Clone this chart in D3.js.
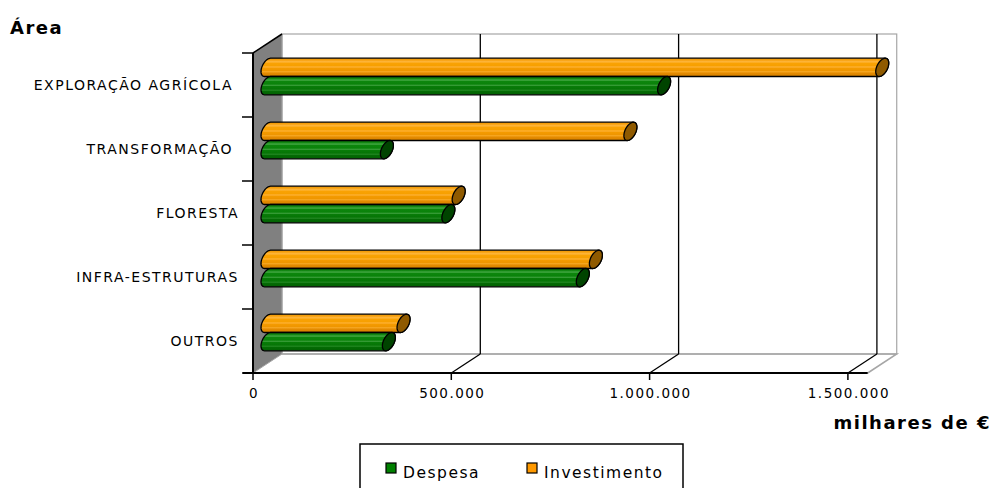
<!DOCTYPE html>
<html>
<head>
<meta charset="utf-8">
<script src="https://cdn.jsdelivr.net/npm/d3@7"></script>
<style>
  html, body { margin: 0; padding: 0; background: #fff; }
  svg { display: block; }
  text { font-family: "DejaVu Sans", Verdana, sans-serif; fill: #000; white-space: pre; }
</style>
</head>
<body>
<svg id="chart" width="992" height="488"></svg>
<script>
// Categories (top to bottom) and the two series, in thousands of euros
const categories = ["EXPLORAÇÃO AGRÍCOLA ", "TRANSFORMAÇÃO ", "FLORESTA", "INFRA-ESTRUTURAS", "OUTROS"];
const seriesNames = ["Investimento", "Despesa"];
const despesa = [1000000, 301000, 456000, 795000, 306000];
const investimento = [1550000, 915000, 482000, 828000, 343000];
const xTickValues = [0, 500000, 1000000, 1500000];
const xMax = 1550000;
const titleY = "Área";
const titleX = "milhares de €";

const svg = d3.select("#chart");
const locale = d3.formatLocale({ decimal: ",", thousands: ".", grouping: [3], currency: ["", " €"] });
const fmt = locale.format(",d");

// Plot geometry: front plane and oblique depth offset
const front = { left: 253, top: 53, bottom: 373 };
const depth = { dx: 29, dy: -19 };

const x = d3.scaleLinear().domain([0, xMax]).range([front.left, front.left + xMax * 198.3 / 500000]);
const y0 = d3.scaleBand().domain(categories).range([front.top, front.bottom]).paddingInner(0).paddingOuter(0);
const y1 = d3.scaleBand().domain(seriesNames).range([0, y0.bandwidth()]).paddingInner(0).paddingOuter(0.75);

const xEnd = x(xMax);
const backTop = front.top + depth.dy;
const backBottom = front.bottom + depth.dy;

// Walls
const walls = svg.append("g");
// back wall
walls.append("rect")
  .attr("x", front.left + depth.dx).attr("y", backTop)
  .attr("width", xEnd - front.left).attr("height", backBottom - backTop)
  .attr("fill", "#fff").attr("stroke", "#a6a6a6").attr("stroke-width", 1.2);
// left side wall
walls.append("path")
  .attr("d", `M${front.left},${front.top} L${front.left + depth.dx},${backTop} L${front.left + depth.dx},${backBottom} L${front.left},${front.bottom} Z`)
  .attr("fill", "#808080").attr("stroke", "#a6a6a6").attr("stroke-width", 1);
// floor outline
walls.append("path")
  .attr("d", `M${front.left + depth.dx},${backBottom} L${xEnd + depth.dx},${backBottom} L${xEnd},${front.bottom}`)
  .attr("fill", "none").attr("stroke", "#a6a6a6").attr("stroke-width", 1.5);

// Gridlines on back wall and floor
const grid = svg.append("g");
xTickValues.filter(v => v > 0).forEach(v => {
  const gx = x(v);
  grid.append("line")
    .attr("x1", gx + depth.dx).attr("x2", gx + depth.dx)
    .attr("y1", backTop).attr("y2", backBottom)
    .attr("stroke", "#000").attr("stroke-width", 1.3);
  grid.append("line")
    .attr("x1", gx).attr("y1", front.bottom)
    .attr("x2", gx + depth.dx).attr("y2", backBottom)
    .attr("stroke", "#000").attr("stroke-width", 1.3);
});

// Gradients for the cylinder bodies
const defs = svg.append("defs");
const palettes = {
  Investimento: {
    stops: [[0, "#e99200"], [0.1, "#f7a10e"], [0.2, "#ffb842"], [0.27, "#f9a204"], [0.42, "#f7a000"],
            [0.48, "#ffb43c"], [0.54, "#f49b00"], [0.7, "#ee9500"], [0.74, "#f9ad2e"], [0.8, "#e58c00"], [1, "#d78100"]],
    cap: "#8f5a00", swatch: "#ff9900"
  },
  Despesa: {
    stops: [[0, "#0a6f0a"], [0.1, "#0e840e"], [0.2, "#44a844"], [0.27, "#0c860c"], [0.42, "#0a820a"],
            [0.48, "#3fa23f"], [0.54, "#087c08"], [0.7, "#067406"], [0.74, "#2f922f"], [0.8, "#046c04"], [1, "#035f03"]],
    cap: "#004400", swatch: "#008000"
  }
};
Object.entries(palettes).forEach(([name, p]) => {
  const g = defs.append("linearGradient").attr("id", "grad-" + name)
    .attr("x1", 0).attr("y1", 0).attr("x2", 0).attr("y2", 1);
  p.stops.forEach(([o, c]) => g.append("stop").attr("offset", o).attr("stop-color", c));
});

// Cylinder bars at mid depth
const mid = { dx: depth.dx / 2, dy: depth.dy / 2 + 1 };
const capA = 6.5;
const capB = capA * (-depth.dy) / depth.dx;

function ellipsePoint(cx, cy, r, t) {
  return [cx + capA * Math.sin(t), cy - r * Math.cos(t) - capB * Math.sin(t)];
}
function arcPoints(cx, cy, r, t0, t1, n) {
  const pts = [];
  for (let i = 0; i <= n; i++) pts.push(ellipsePoint(cx, cy, r, t0 + (t1 - t0) * i / n));
  return pts;
}

const rows = [];
categories.forEach((c, i) => {
  rows.push({ cat: c, series: "Investimento", value: investimento[i] });
  rows.push({ cat: c, series: "Despesa", value: despesa[i] });
});

const bars = svg.append("g");
rows.forEach(d => {
  const R = y1.bandwidth() / 2;
  const r = Math.sqrt(Math.max(R * R - capB * capB, 1));
  const yc = y0(d.cat) + y1(d.series) + R + mid.dy;
  const xa = x(0) + mid.dx;
  const xb = x(d.value) + mid.dx;
  const tt = Math.atan2(capB, r);
  const right = arcPoints(xb, yc, r, tt, tt + Math.PI, 24);
  const left = arcPoints(xa, yc, r, tt + Math.PI, tt + 2 * Math.PI, 24);
  const body = [ellipsePoint(xa, yc, r, tt), ...right, ...left];
  const line = d3.line();
  bars.append("path")
    .attr("d", line(body) + "Z")
    .attr("fill", `url(#grad-${d.series})`)
    .attr("stroke", "#000").attr("stroke-width", 1.3).attr("stroke-linejoin", "round");
  bars.append("path")
    .attr("d", line(arcPoints(xb, yc, r, 0, 2 * Math.PI, 48)) + "Z")
    .attr("fill", palettes[d.series].cap)
    .attr("stroke", "#000").attr("stroke-width", 1.3);
});

// Axes (front edges)
const axes = svg.append("g");
axes.append("line")
  .attr("x1", front.left).attr("x2", front.left)
  .attr("y1", front.top).attr("y2", front.bottom)
  .attr("stroke", "#000").attr("stroke-width", 2);
axes.append("line")
  .attr("x1", front.left).attr("y1", front.top)
  .attr("x2", front.left + depth.dx).attr("y2", backTop)
  .attr("stroke", "#000").attr("stroke-width", 1.5);
axes.append("line")
  .attr("x1", front.left - 10).attr("x2", xEnd)
  .attr("y1", front.bottom).attr("y2", front.bottom)
  .attr("stroke", "#000").attr("stroke-width", 2);

// Category ticks and labels
const catEdges = categories.map(c => y0(c)).concat([front.bottom]);
catEdges.forEach(yy => {
  axes.append("line")
    .attr("x1", front.left - 11).attr("x2", front.left)
    .attr("y1", yy).attr("y2", yy)
    .attr("stroke", "#000").attr("stroke-width", 1.5);
});
categories.forEach(c => {
  axes.append("text")
    .attr("x", 239).attr("y", y0(c) + y0.bandwidth() / 2 + 5)
    .attr("text-anchor", "end")
    .style("font-size", "14px").style("letter-spacing", "1.5px")
    .text(c);
});

// Value ticks and labels
xTickValues.forEach(v => {
  axes.append("line")
    .attr("x1", x(v)).attr("x2", x(v))
    .attr("y1", front.bottom).attr("y2", front.bottom + 7)
    .attr("stroke", "#000").attr("stroke-width", 1.5);
  axes.append("text")
    .attr("x", x(v) + 1).attr("y", 398)
    .attr("text-anchor", "middle")
    .style("font-size", "13.5px").style("letter-spacing", "1.5px")
    .text(fmt(v));
});

// Axis titles
svg.append("text").attr("x", 10).attr("y", 34)
  .style("font-size", "18px").style("font-weight", "bold").style("letter-spacing", "1.5px")
  .text(titleY);
svg.append("text").attr("x", 991).attr("y", 429).attr("text-anchor", "end")
  .style("font-size", "18px").style("font-weight", "bold").style("letter-spacing", "1.5px")
  .text(titleX);

// Legend
const legend = svg.append("g");
legend.append("rect").attr("x", 360).attr("y", 444).attr("width", 323).attr("height", 70)
  .attr("fill", "#fff").attr("stroke", "#000").attr("stroke-width", 1.5);
const legendItems = [{ name: "Despesa", x: 386 }, { name: "Investimento", x: 527 }];
legendItems.forEach(it => {
  legend.append("rect").attr("x", it.x).attr("y", 463).attr("width", 10).attr("height", 10)
    .attr("fill", palettes[it.name].swatch).attr("stroke", "#000").attr("stroke-width", 1.2);
  legend.append("text").attr("x", it.x + 17).attr("y", 478)
    .style("font-size", "15.5px").style("letter-spacing", "1.5px")
    .text(it.name);
});
</script>
</body>
</html>
